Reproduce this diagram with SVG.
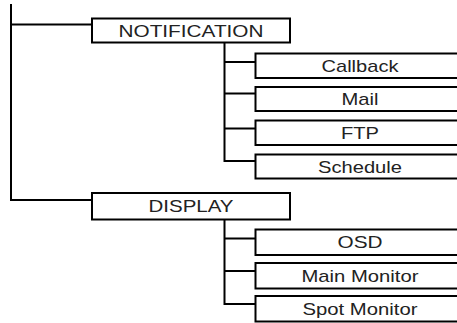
<svg xmlns="http://www.w3.org/2000/svg" width="457" height="323" viewBox="0 0 457 323">
<style>
.box{fill:#fff;stroke:#000;stroke-width:2}
.ln{fill:none;stroke:#000;stroke-width:2}
text{font-family:"Liberation Sans",Arial,sans-serif;font-size:17px;fill:#222;text-anchor:middle}
</style>
<rect width="457" height="323" fill="#fff"/>
<g id="connectors">
<path class="ln" d="M11,4 V200 H92"/>
<path class="ln" d="M11,24.5 H92"/>
<path class="ln" d="M224.5,42.5 V161 H255.5"/>
<path class="ln" d="M224.5,62 H255.5 M224.5,93.5 H255.5 M224.5,128.5 H255.5"/>
<path class="ln" d="M224.5,219.5 V304 H255.5"/>
<path class="ln" d="M224.5,238.5 H255.5 M224.5,271 H255.5"/>
</g>
<g id="notification"><rect class="box" x="92" y="18.5" width="198" height="24"/><text x="191" y="36.5" textLength="145" lengthAdjust="spacingAndGlyphs">NOTIFICATION</text></g>
<g id="callback"><rect class="box" x="255.5" y="53.5" width="212" height="24.5"/><text x="360" y="71.5" textLength="77" lengthAdjust="spacingAndGlyphs">Callback</text></g>
<g id="mail"><rect class="box" x="255.5" y="87" width="212" height="24"/><text x="360" y="105" textLength="37" lengthAdjust="spacingAndGlyphs">Mail</text></g>
<g id="ftp"><rect class="box" x="255.5" y="120.5" width="212" height="24.5"/><text x="360" y="138.5" textLength="38" lengthAdjust="spacingAndGlyphs">FTP</text></g>
<g id="schedule"><rect class="box" x="255.5" y="154.5" width="212" height="24"/><text x="360" y="172.5" textLength="84" lengthAdjust="spacingAndGlyphs">Schedule</text></g>
<g id="display"><rect class="box" x="92" y="193" width="198" height="26.5"/><text x="191" y="212" textLength="85" lengthAdjust="spacingAndGlyphs">DISPLAY</text></g>
<g id="osd"><rect class="box" x="255.5" y="229.5" width="212" height="25.5"/><text x="360" y="248" textLength="45" lengthAdjust="spacingAndGlyphs">OSD</text></g>
<g id="main-monitor"><rect class="box" x="255.5" y="263" width="212" height="25.5"/><text x="360" y="281.5" textLength="117" lengthAdjust="spacingAndGlyphs">Main Monitor</text></g>
<g id="spot-monitor"><rect class="box" x="255.5" y="296" width="212" height="25.5"/><text x="360" y="314.5" textLength="115" lengthAdjust="spacingAndGlyphs">Spot Monitor</text></g>
</svg>
